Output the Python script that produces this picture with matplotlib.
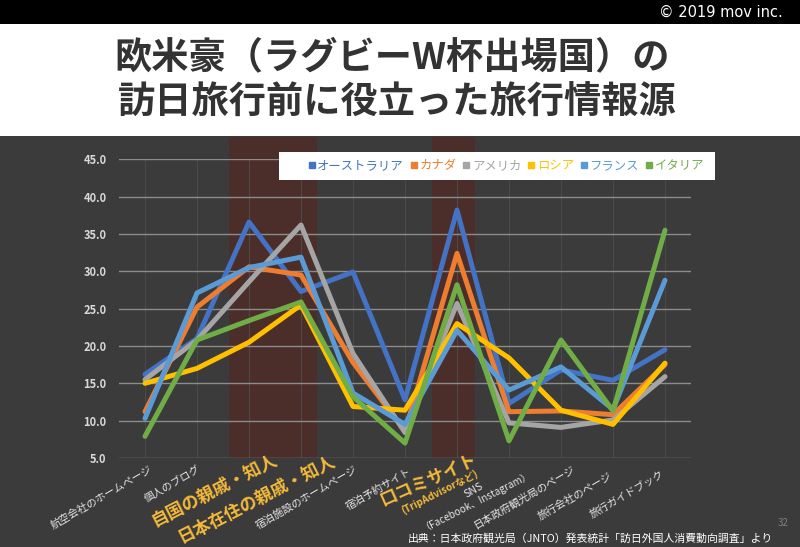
import matplotlib.pyplot as plt
from matplotlib.patches import Rectangle
from matplotlib.lines import Line2D
import matplotlib.transforms as mtransforms

plt.rcParams['font.family'] = ['Noto Sans CJK JP', 'DejaVu Sans']

# Data (%)
categories = ["航空会社のホームページ", "個人のブログ", "自国の親戚・知人", "日本在住の親戚・知人",
              "宿泊施設のホームページ", "宿泊予約サイト", "口コミサイト", "SNS",
              "日本政府観光局のページ", "旅行会社のページ", "旅行ガイドブック"]
sub_labels = {6: "(TripAdvisorなど)", 7: "（Facebook、Instagram）"}
highlighted = [2, 3, 6]

countries = ["オーストラリア", "カナダ", "アメリカ", "ロシア", "フランス", "イタリア"]
australia = [16.2, 21.0, 36.6, 27.3, 29.9, 12.8, 38.2, 12.3, 16.8, 15.4, 19.5]
canada = [11.2, 25.2, 30.6, 29.5, 17.8, 8.6, 32.4, 11.2, 11.3, 10.8, 17.5]
america = [15.5, 20.8, 28.6, 36.2, 19.0, 8.4, 25.7, 9.7, 9.1, 10.1, 15.9]
russia = [15.0, 17.0, 20.5, 25.5, 11.9, 11.4, 23.0, 18.4, 11.4, 9.5, 17.7]
france = [10.3, 27.1, 30.5, 31.9, 13.7, 9.5, 22.1, 14.1, 17.2, 11.5, 28.8]
italy = [7.9, 20.8, 23.4, 25.9, 13.2, 7.0, 28.2, 7.3, 20.8, 11.3, 35.5]
series = [australia, canada, america, russia, france, italy]
colors = ["#4472C4", "#ED7D31", "#A5A5A5", "#FFC000", "#5B9BD5", "#70AD47"]

W, H = 800, 547
fig = plt.figure(figsize=(8, 5.47), dpi=100, facecolor="#3b3b3b")

def fy(y):  # pixel row -> figure fraction
    return 1 - y / H

# header: black bar and white title area
fig.add_artist(Rectangle((0, fy(24)), 1, 24 / H, transform=fig.transFigure,
                         facecolor="black", edgecolor="none", zorder=-3))
fig.add_artist(Rectangle((0, fy(136)), 1, 112 / H, transform=fig.transFigure,
                         facecolor="white", edgecolor="none", zorder=-3))
fig.text(783 / W, fy(12), "© 2019 mov inc.", color="white", fontsize=10.5,
         ha="right", va="center", family=["Liberation Sans Narrow", "DejaVu Sans"])
fig.text(392 / W, fy(58), "欧米豪（ラグビーW杯出場国）の", color="#333333",
         fontsize=26.8, fontweight="bold", ha="center", va="center")
fig.text(397 / W, fy(103), "訪日旅行前に役立った旅行情報源", color="#333333",
         fontsize=26.8, fontweight="bold", ha="center", va="center")

ax = fig.add_axes([119 / W, fy(458), 572 / W, (458 - 159.3) / H])
ax.set_facecolor("none")
ax.set_xlim(-0.5, len(categories) - 0.5)
ax.set_ylim(5, 45)
ax.set_yticks(range(5, 46, 5))
ax.set_yticklabels([f"{v:.1f}" for v in range(5, 46, 5)], color="#d9d9d9",
                   fontsize=8, fontweight="bold")
ax.set_xticks(range(len(categories)))
ax.set_xticklabels([])
ax.tick_params(length=0, pad=9)
for s in ax.spines.values():
    s.set_visible(False)
ax.grid(axis="y", color="#8c8c8c", lw=1.0, zorder=1)
ax.grid(axis="x", color="#4a4a4a", lw=0.8, zorder=1)
ax.set_axisbelow(True)

# highlight bands behind the chart, running up to the header
band_tr = mtransforms.blended_transform_factory(ax.transData, fig.transFigure)
for x0, x1 in [(1.62, 3.31), (5.52, 6.35)]:
    fig.add_artist(Rectangle((x0, fy(458)), x1 - x0, (458 - 137) / H,
                             transform=band_tr, facecolor="#4b2e2a",
                             edgecolor="none", zorder=-1))

x = list(range(len(categories)))
for vals, c in zip(series, colors):
    ax.plot(x, vals, color=c, lw=3.6, solid_joinstyle="round",
            solid_capstyle="round", zorder=3)

# category labels
offsets = {0: (7, -11), 1: (3, -11), 2: (27, -1), 3: (33, -2), 4: (4, -11),
           5: (5, -13), 6: (19, -1), 7: (-26, -27), 8: (13, -10), 9: (-2, -17),
           10: (-2, -15)}
sub_offsets = {6: (20, -15), 7: (21, -14)}
yellow = "#F4B93A"
for i, lab in enumerate(categories):
    big = i in highlighted
    rot = 24 if i == 6 else (27 if big else 30)
    ax.annotate(lab, xy=(i, 5), xytext=offsets[i], textcoords="offset pixels",
                ha="right", va="center", rotation=rot, rotation_mode="anchor",
                color=yellow if big else "#e6e6e6", fontsize=12.5 if big else 7.6,
                fontweight="bold" if big else "normal", annotation_clip=False)
    if i in sub_labels:
        ax.annotate(sub_labels[i], xy=(i, 5), xytext=sub_offsets[i],
                    textcoords="offset pixels", ha="right", va="center",
                    rotation=27, rotation_mode="anchor",
                    color=yellow if big else "#e6e6e6", fontsize=7.2,
                    fontweight="bold" if big else "normal", annotation_clip=False)

# legend on a white strip
fig.add_artist(Rectangle((279 / W, fy(180)), (715 - 279) / W, 28 / H,
                         transform=fig.transFigure, facecolor="white",
                         edgecolor="none", zorder=4))
handles = [Line2D([], [], ls="none", marker="s", ms=5, color=c) for c in colors]
leg = fig.legend(handles, countries, loc="center", bbox_to_anchor=(506 / W, fy(166)),
                 ncol=6, frameon=False, fontsize=8.9, handlelength=0.6,
                 handletextpad=0.15, columnspacing=0.5, borderaxespad=0)
leg.set_zorder(5)
for t, c in zip(leg.get_texts(), colors):
    t.set_color(c)

fig.text(773 / W, fy(538), "出典：日本政府観光局（JNTO）発表統計「訪日外国人消費動向調査」より",
         color="white", fontsize=7.8, ha="right", va="center")
fig.text(789 / W, fy(523), "32", color="#7f7f7f", fontsize=7, ha="right", va="center")

fig.savefig("out.png", dpi=100, facecolor=fig.get_facecolor())
